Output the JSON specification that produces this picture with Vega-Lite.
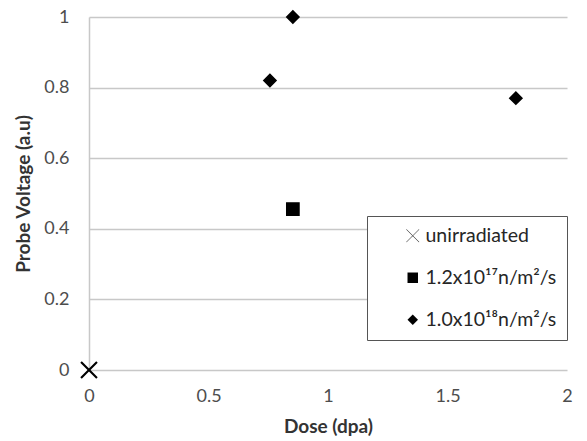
{
  "$schema": "https://vega.github.io/schema/vega-lite/v6.json",
  "width": 478,
  "height": 353,
  "autosize": "none",
  "padding": {"left": 89, "top": 17, "right": 20, "bottom": 71},
  "background": "white",
  "config": {
    "view": {"stroke": null},
    "font": "Lato",
    "axis": {"labelFont": "Lato", "titleFont": "Lato"}
  },
  "data": {
    "values": [
      {"dose": 0, "voltage": 0, "series": "unirradiated"},
      {"dose": 0.853, "voltage": 0.456, "series": "1.2x10¹⁷n/m²/s"},
      {"dose": 0.757, "voltage": 0.82, "series": "1.0x10¹⁸n/m²/s"},
      {"dose": 0.853, "voltage": 1.0, "series": "1.0x10¹⁸n/m²/s"},
      {"dose": 1.786, "voltage": 0.77, "series": "1.0x10¹⁸n/m²/s"}
    ]
  },
  "mark": {"type": "point", "filled": true, "fill": "black", "stroke": "black", "strokeWidth": 1.5, "opacity": 1, "clip": false, "size": 150},
  "encoding": {
    "x": {
      "field": "dose", "type": "quantitative",
      "scale": {"domain": [0, 2], "nice": false, "zero": true},
      "axis": {
        "values": [0, 0.5, 1, 1.5, 2], "format": "~g", "grid": false, "domain": false, "ticks": false,
        "labelFontSize": 18, "labelColor": "#4d4d4d", "labelPadding": 17,
        "title": "Dose (dpa)", "titleFontSize": 19, "titleFontWeight": "bold", "titleColor": "#333333", "titlePadding": 12,
        "labelFlush": false
      }
    },
    "y": {
      "field": "voltage", "type": "quantitative",
      "scale": {"domain": [0, 1], "nice": false},
      "axis": {
        "values": [0, 0.2, 0.4, 0.6, 0.8, 1], "format": "~g", "grid": true, "gridColor": "#c8c8c8", "gridWidth": 1.5,
        "domain": true, "domainColor": "#c8c8c8", "domainWidth": 1.5, "ticks": false,
        "labelFontSize": 18, "labelColor": "#4d4d4d", "labelPadding": 20,
        "title": "Probe Voltage (a.u)", "titleFontSize": 19, "titleFontWeight": "bold", "titleColor": "#333333", "titlePadding": 10
      }
    },
    "shape": {
      "field": "series", "type": "nominal",
      "scale": {
        "domain": ["unirradiated", "1.2x10¹⁷n/m²/s", "1.0x10¹⁸n/m²/s"],
        "range": ["M-1.18,-1.25L1.25,1.18L1.18,1.25L-1.25,-1.18ZM1.18,-1.25L1.25,-1.18L-1.18,1.25L-1.25,1.18Z", "square", "diamond"]
      },
      "legend": {
        "title": null,
        "orient": "none",
        "legendX": 278,
        "legendY": 199,
        "strokeColor": "#555555",
        "fillColor": "white",
        "padding": 10,
        "symbolOffset": 26,
        "labelFontSize": 19.5,
        "labelFont": "Lato",
        "labelColor": "#262626",
        "labelOffset": 3,
        "rowPadding": 21,
        "symbolSize": 110,
        "symbolFillColor": "black",
        "symbolStrokeColor": "black",
        "symbolStrokeWidth": 1.5,
        "labelLimit": 300,
        "encode": {
          "symbols": {
            "update": {
              "stroke": {"value": "black"},
              "strokeWidth": {"value": 1.5},
              "fill": {"value": "black"},
              "opacity": {"value": 1}
            }
          }
        }
      }
    }
  }
}
